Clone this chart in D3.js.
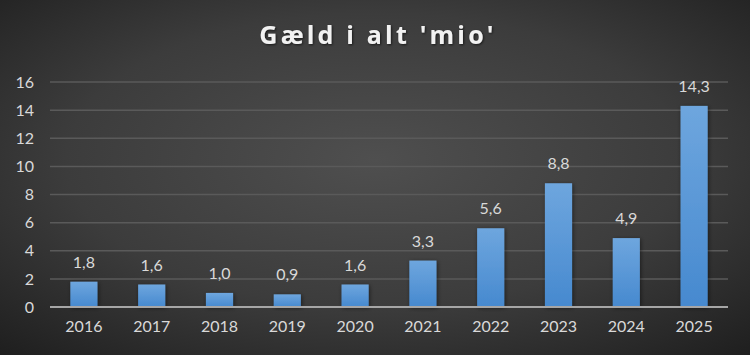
<!DOCTYPE html>
<html><head><meta charset="utf-8">
<script src="https://cdn.jsdelivr.net/npm/d3@7"></script>
<style>html,body{margin:0;padding:0;background:#333;}svg{display:block;}</style>
</head><body>
<svg id="chart" width="750" height="355"></svg>
<script>
const title = "Gæld i alt 'mio'";
const categories = ["2016","2017","2018","2019","2020","2021","2022","2023","2024","2025"];
const values = [1.8, 1.6, 1.0, 0.9, 1.6, 3.3, 5.6, 8.8, 4.9, 14.3];
const labels = ["1,8","1,6","1,0","0,9","1,6","3,3","5,6","8,8","4,9","14,3"];
const yTicks = [0,2,4,6,8,10,12,14,16];

const W = 750, H = 355;
const m = {left:50, right:22, top:82, bottom:48};
const svg = d3.select("#chart");
const defs = svg.append("defs");

const bg = defs.append("radialGradient").attr("id","bg").attr("cx","50%").attr("cy","45%").attr("r","75%");
bg.append("stop").attr("offset","0%").attr("stop-color","#4f4f4f");
bg.append("stop").attr("offset","55%").attr("stop-color","#3c3c3c");
bg.append("stop").attr("offset","100%").attr("stop-color","#1e1e1e");

const bar = defs.append("linearGradient").attr("id","bar").attr("x1",0).attr("y1",0).attr("x2",0).attr("y2",1);
bar.append("stop").attr("offset","0%").attr("stop-color","#6ea6de");
bar.append("stop").attr("offset","100%").attr("stop-color","#4689cf");

const sh = defs.append("filter").attr("id","sh").attr("x","-30%").attr("y","-30%").attr("width","160%").attr("height","160%");
sh.append("feDropShadow").attr("dx",1).attr("dy",1).attr("stdDeviation",2).attr("flood-color","#000").attr("flood-opacity",0.5);
const tsh = defs.append("filter").attr("id","tsh");
tsh.append("feDropShadow").attr("dx",1).attr("dy",1).attr("stdDeviation",1).attr("flood-color","#000").attr("flood-opacity",0.6);

svg.append("rect").attr("width",W).attr("height",H).attr("fill","url(#bg)");

const x = d3.scaleBand().domain(categories).range([m.left, W-m.right]).paddingInner(0.6).paddingOuter(0.3);
const y = d3.scaleLinear().domain([0,16]).range([H-m.bottom, m.top]);

// gridlines
svg.append("g").selectAll("line").data(yTicks.filter(d=>d>0)).join("line")
  .attr("x1",m.left).attr("x2",W-m.right)
  .attr("y1",d=>y(d)).attr("y2",d=>y(d))
  .attr("stroke","#5a5a5a").attr("stroke-width",1.5);

// y axis labels
const yAxis = d3.axisLeft(y).tickValues(yTicks).tickSize(0).tickPadding(0).tickFormat(d3.format("d"));
const gy = svg.append("g").attr("transform",`translate(${m.left-16},0)`).call(yAxis);
gy.select(".domain").remove();
gy.selectAll("text").attr("fill","#d9d9d9").style("font-family","Lato, 'Open Sans', sans-serif").style("font-size","16px");

// bars
svg.append("g").selectAll("rect").data(values).join("rect")
  .attr("x",(d,i)=>x(categories[i]))
  .attr("width",x.bandwidth())
  .attr("y",d=>y(d))
  .attr("height",d=>y(0)-y(d))
  .attr("fill","url(#bar)")
  .attr("filter","url(#sh)");

// baseline
svg.append("line").attr("x1",m.left).attr("x2",W-m.right).attr("y1",y(0)).attr("y2",y(0))
  .attr("stroke","#a6a6a6").attr("stroke-width",2);

// x axis
const xAxis = d3.axisBottom(x).tickSize(0).tickPadding(0);
const gx = svg.append("g").attr("transform",`translate(0,${y(0)+14})`).call(xAxis);
gx.select(".domain").remove();
gx.selectAll("text").attr("fill","#d9d9d9").attr("dy","0.71em")
  .style("font-family","Lato, 'Open Sans', sans-serif").style("font-size","16px");

// value labels
svg.append("g").selectAll("text").data(values).join("text")
  .attr("x",(d,i)=>x(categories[i])+x.bandwidth()/2)
  .attr("y",d=>y(d)-14)
  .attr("text-anchor","middle")
  .attr("fill","#d9d9d9")
  .style("font-family","Lato, 'Open Sans', sans-serif").style("font-size","16px")
  .text((d,i)=>labels[i]);

// title
svg.append("text").attr("x",378).attr("y",44).attr("text-anchor","middle")
  .attr("fill","#f2f2f2").attr("filter","url(#tsh)")
  .style("font-family","'Open Sans', Lato, sans-serif").style("font-weight","bold").style("font-size","25px")
  .style("letter-spacing","3.2px")
  .text(title);
</script>
</body></html>
